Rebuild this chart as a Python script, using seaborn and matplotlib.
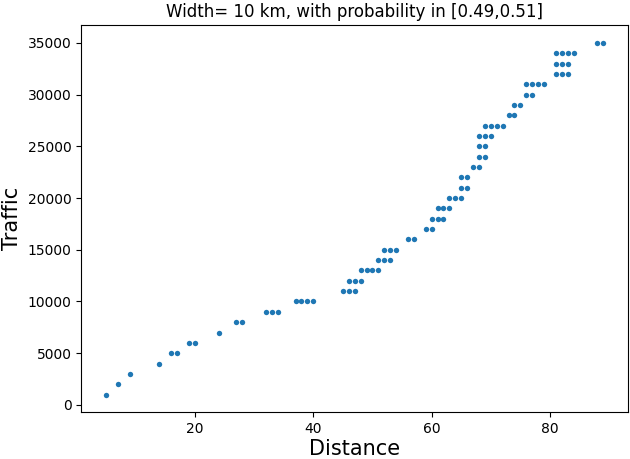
import pandas as pd
import matplotlib
matplotlib.use('Agg')
import matplotlib.pyplot as plt
import seaborn as sns

# Traffic levels (one row of dots per level) and the distances at each level
traffic_levels = [1000, 2000, 3000, 4000, 5000, 6000, 7000, 8000, 9000, 10000,
                  11000, 12000, 13000, 14000, 15000, 16000, 17000, 18000, 19000, 20000,
                  21000, 22000, 23000, 24000, 25000, 26000, 27000, 28000, 29000, 30000,
                  31000, 32000, 33000, 34000, 35000]
distances_per_level = [
    [5], [7], [9], [14], [16, 17], [19, 20], [24], [27, 28], [32, 33, 34], [37, 38, 39, 40],
    [45, 46, 47], [46, 47, 48], [48, 49, 50, 51], [51, 52, 53], [52, 53, 54], [56, 57], [59, 60],
    [60, 61, 62], [61, 62, 63], [63, 64, 65],
    [65, 66], [65, 66], [67, 68], [68, 69], [68, 69], [68, 69, 70], [69, 70, 71, 72], [73, 74],
    [74, 75], [76, 77],
    [76, 77, 78, 79], [81, 82, 83], [81, 82, 83], [81, 82, 83, 84], [88, 89],
]

rows = []
for t, ds in zip(traffic_levels, distances_per_level):
    for d in ds:
        rows.append({'Distance': d, 'Traffic': t})
data = pd.DataFrame(rows)

fig = plt.figure(figsize=(6.3, 4.59), dpi=100)
ax = fig.add_subplot(111)
sns.scatterplot(x='Distance', y='Traffic', data=data, ax=ax, s=15, linewidth=0, color='#1f77b4')
ax.set_title('Width= 10 km, with probability in [0.49,0.51]', fontsize=12)
ax.set_xlabel('Distance', fontsize=15, labelpad=2)
ax.set_ylabel('Traffic', fontsize=15)
ax.set_xticks([20, 40, 60, 80])
fig.subplots_adjust(left=0.129, right=0.997, bottom=0.102, top=0.945)

plt.savefig('out.png')
